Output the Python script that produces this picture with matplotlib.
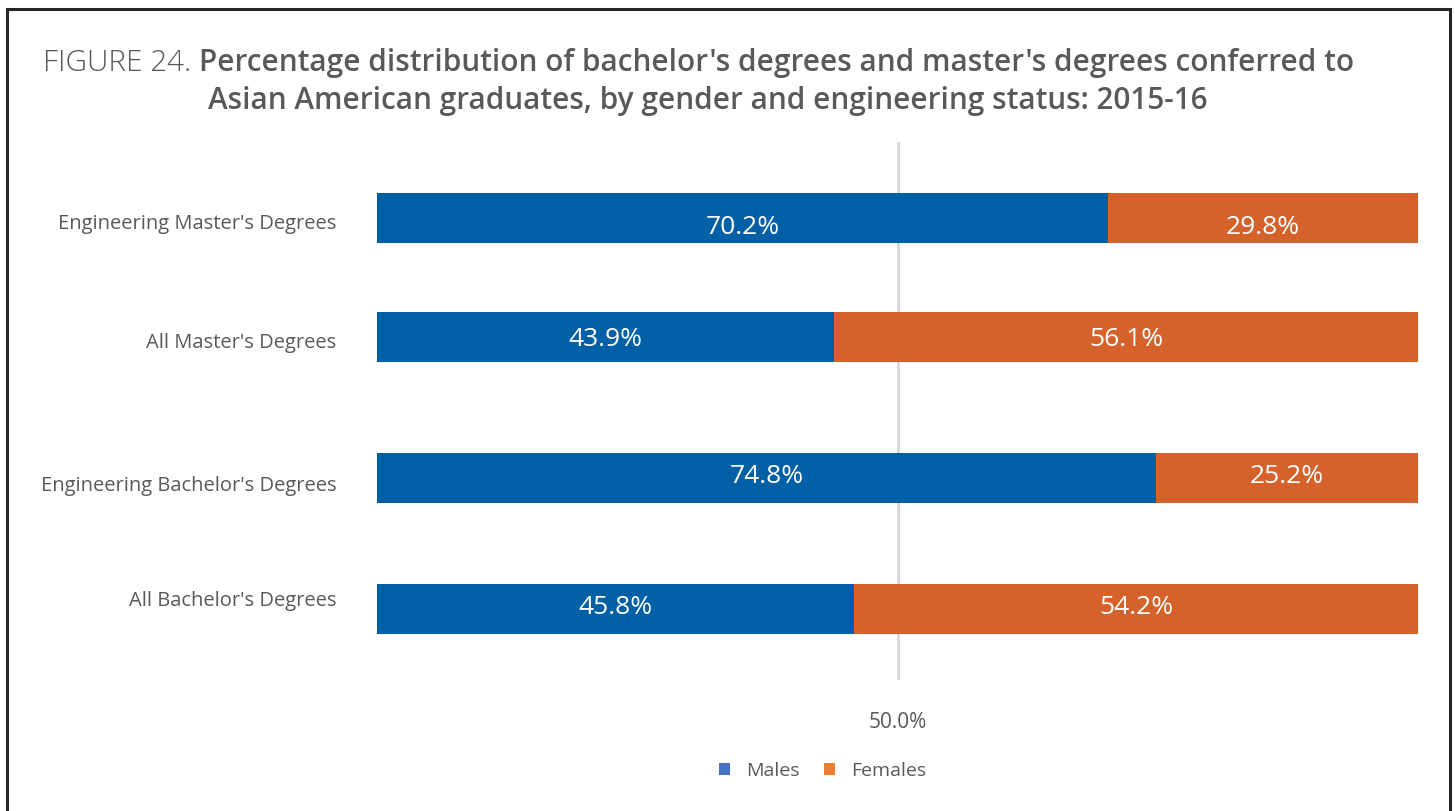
import matplotlib
import matplotlib.pyplot as plt
from matplotlib.patches import Patch, Rectangle

matplotlib.use('Agg')

plt.rcParams['font.family'] = ['Open Sans', 'DejaVu Sans']

categories = [
    "Engineering Master's Degrees",
    "All Master's Degrees",
    "Engineering Bachelor's Degrees",
    "All Bachelor's Degrees",
]
males = [70.2, 43.9, 74.8, 45.8]
females = [29.8, 56.1, 25.2, 54.2]
series_names = ["Males", "Females"]

# bar colours differ slightly from the legend swatches
bar_colors = ["#0060A5", "#D5622B"]
legend_colors = ["#4472C4", "#ED7D31"]
text_color = "#595959"

# row centres and label positions (in units of 100 px from the top of the figure)
row_pos = [2.18, 3.37, 4.78, 6.09]
label_pos = [2.21, 3.40, 4.83, 5.98]
value_shift = [0.10, 0.02, -0.02, -0.02]

W, H = 1455, 811
fig = plt.figure(figsize=(W / 100, H / 100), dpi=100)

ax = fig.add_axes([377 / W, 1 - 680 / H, 1041 / W, 538 / H])
ax.set_xlim(0, 100)
ax.set_ylim(6.80, 1.42)

ax.axvline(50, color="#D9D9D9", lw=2.2, zorder=0)

ax.barh(row_pos, males, height=0.5, color=bar_colors[0], zorder=2)
ax.barh(row_pos, females, left=males, height=0.5, color=bar_colors[1], zorder=2)

for y, dy, m, f in zip(row_pos, value_shift, males, females):
    ax.text(m / 2, y + dy, f"{m:.1f}%", ha='center', va='center',
            color='white', fontsize=19, zorder=3)
    ax.text(m + f / 2, y + dy, f"{f:.1f}%", ha='center', va='center',
            color='white', fontsize=19, zorder=3)

ax.set_yticks(label_pos)
ax.set_yticklabels(categories, fontsize=14.5, color=text_color)
ax.set_xticks([50])
ax.set_xticklabels(["50.0%"], fontsize=15, color=text_color)
ax.tick_params(axis='y', length=0, pad=29)
ax.tick_params(axis='x', length=0, pad=23)
for s in ax.spines.values():
    s.set_visible(False)

handles = [Patch(facecolor=c, edgecolor='none') for c in legend_colors]
leg = fig.legend(handles, series_names, loc='center', bbox_to_anchor=(823 / W, 1 - 771 / H),
                 ncol=2, frameon=False, fontsize=14, handlelength=0.55, handleheight=0.55,
                 handletextpad=0.85, columnspacing=1.25)
for t in leg.get_texts():
    t.set_color(text_color)

# title: light prefix followed by bold text, second line centred
renderer = fig.canvas.get_renderer()
prefix = fig.text(43 / W, 1 - 63 / H, "FIGURE 24. ", fontsize=21.4, fontweight='light',
                  color=text_color, ha='left', va='center')
bb = prefix.get_window_extent(renderer=renderer)
fig.text(bb.x1 / W, 1 - 63 / H,
         "Percentage distribution of bachelor's degrees and master's degrees conferred to",
         fontsize=21.4, fontweight='semibold', color=text_color, ha='left', va='center')
fig.text(708 / W, 1 - 101 / H,
         "Asian American graduates, by gender and engineering status: 2015-16",
         fontsize=21.4, fontweight='semibold', color=text_color, ha='center', va='center')

# outer frame, open at the bottom edge of the image
fig.patches.append(Rectangle((7 / W, -0.1), 1443 / W, 1.1 - 9 / H, transform=fig.transFigure,
                             fill=False, edgecolor="#262626", lw=2.2))

fig.savefig("out.png", dpi=100)
